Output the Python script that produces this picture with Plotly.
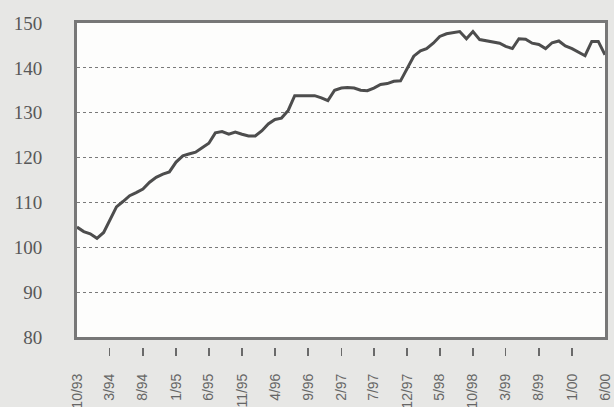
import pandas as pd
import plotly.graph_objects as go

# Monthly index values, 10/1993 .. 6/2000
start_month = "1993-10-01"
values = [
    104.5, 103.5, 103.0, 102.0, 103.3, 106.0, 109.0, 110.2, 111.5, 112.2,
    113.0, 114.5, 115.6, 116.3, 116.8, 119.0, 120.4, 120.8, 121.2, 122.2,
    123.2, 125.5, 125.8, 125.2, 125.7, 125.2, 124.8, 124.8, 126.0, 127.5,
    128.5, 128.8, 130.5, 133.8, 133.8, 133.8, 133.8, 133.3, 132.7, 135.0,
    135.5, 135.6, 135.5, 135.0, 134.9, 135.5, 136.3, 136.5, 137.0, 137.1,
    139.9, 142.6, 143.8, 144.3, 145.5, 147.0, 147.6, 147.8, 148.1, 146.5,
    148.1, 146.3, 146.0, 145.7, 145.5, 144.8, 144.3, 146.5, 146.4, 145.5,
    145.2, 144.3, 145.6, 146.0, 144.9, 144.3, 143.5, 142.7, 145.9, 145.9,
    142.9,
]
tick_labels = ["10/93", "3/94", "8/94", "1/95", "6/95", "11/95", "4/96", "9/96",
               "2/97", "7/97", "12/97", "5/98", "10/98", "3/99", "8/99", "1/00", "6/00"]
tick_months = ["1993-10-01", "1994-03-01", "1994-08-01", "1995-01-01", "1995-06-01",
               "1995-11-01", "1996-04-01", "1996-09-01", "1997-02-01", "1997-07-01",
               "1997-12-01", "1998-05-01", "1998-10-01", "1999-03-01", "1999-08-01",
               "2000-01-01", "2000-06-01"]
y_ticks = [80, 90, 100, 110, 120, 130, 140, 150]

dates = pd.date_range(start_month, periods=len(values), freq="MS")
x_range = [dates[0], dates[-1]]

fig = go.Figure()
fig.add_trace(go.Scatter(
    x=dates, y=values, mode="lines",
    line=dict(color="#4d4d4d", width=3),
    showlegend=False, hoverinfo="skip",
))
# invisible trace carrying the detached tick marks axis
fig.add_trace(go.Scatter(
    x=dates, y=values, xaxis="x2", mode="lines",
    line=dict(color="rgba(0,0,0,0)", width=0),
    showlegend=False, hoverinfo="skip",
))

fig.update_layout(
    width=614, height=407,
    margin=dict(l=77, r=9, t=23, b=60, autoexpand=False),
    paper_bgcolor="#e7e7e5",
    plot_bgcolor="#fdfdfc",
    xaxis=dict(
        type="date", range=x_range, automargin=False,
        tickvals=tick_months, ticktext=tick_labels,
        tickangle=-90, ticklabeloverflow="allow",
        ticks="", showgrid=False, zeroline=False,
        showline=True, mirror=True, linecolor="#777777", linewidth=3,
        ticklabelstandoff=28,
        tickfont=dict(family="Liberation Sans", size=14, color="#666666"),
    ),
    xaxis2=dict(
        type="date", range=x_range, overlaying="x", anchor="free", position=0,
        side="bottom", automargin=False,
        tickvals=tick_months[1:-1], ticks="outside", ticklen=8, tickwidth=1.5,
        tickcolor="#6a6a6a", showticklabels=False,
        showgrid=False, zeroline=False, showline=False,
    ),
    yaxis=dict(
        domain=[10 / 324, 1], automargin=False,
        range=[80, 150], tickvals=y_ticks,
        showgrid=True, griddash="dot", gridcolor="#7a7a7a", gridwidth=1,
        zeroline=False, ticks="",
        showline=True, mirror=True, linecolor="#777777", linewidth=3,
        ticklabelstandoff=28,
        tickfont=dict(family="Liberation Serif", size=19, color="#585858"),
    ),
)

fig.write_html(
    "out.html",
    config={"displayModeBar": False, "staticPlot": True},
    post_script="document.body.style.margin='0';document.body.style.background='#e7e7e5';",
)
